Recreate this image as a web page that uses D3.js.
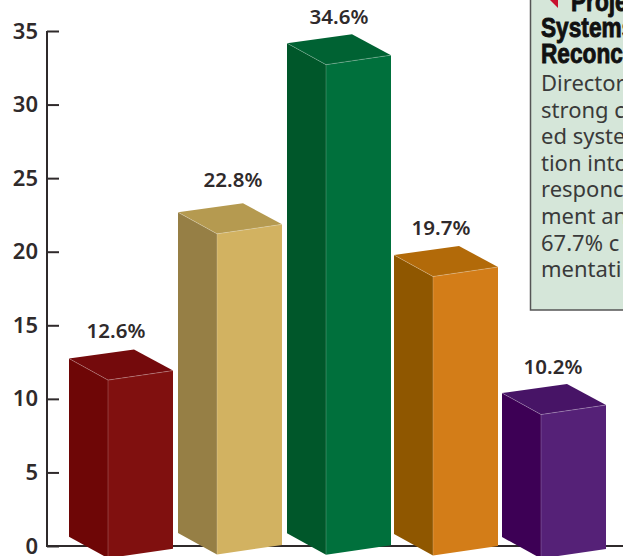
<!DOCTYPE html>
<html><head><meta charset="utf-8">
<script src="https://cdn.jsdelivr.net/npm/d3@7/dist/d3.min.js"></script>
<style>
html,body{margin:0;padding:0;background:#fff;overflow:hidden}
svg{display:block}
</style></head><body>
<svg id="c" width="623" height="556"></svg>
<script>
const categories = ["Bar 1","Bar 2","Bar 3","Bar 4","Bar 5"];
const values = [12.6,22.8,34.6,19.7,10.2];
const yTicks = [0,5,10,15,20,25,30,35];
const frontColors = ["#80100f","#d2b261","#00703c","#d37d18","#552177"];
const sideColors  = ["#6e0606","#967f45","#00572a","#8f5700","#3d0055"];
const topColors   = ["#740a0c","#b59a50","#006233","#b26a09","#471466"];
const headingLines = ["Proje","Systems","Reconc"];
const bodyLines = ["Director","strong c","ed syste","tion into","responc","ment an","67.7% c","mentati"];

const svg = d3.select("#c");
const font = "'Noto Sans', sans-serif";
const ink = "#2f2a2b";

const y = d3.scaleLinear().domain([0,35]).range([546,31]);
// bars are drawn in oblique projection, so their tops follow a slightly different scale
const yBar = d3.scaleLinear().domain([0,35]).range([539.3,37.4]);
const x = d3.scaleOrdinal().domain(categories).range([69,178,287,394,502]);

// axis
const axis = d3.axisLeft(y).tickValues(yTicks).tickSize(-12).tickPadding(9).tickFormat(d3.format("d"));
const gA = svg.append("g").attr("transform","translate(47,0)").call(axis);
gA.select(".domain").attr("stroke",ink).attr("stroke-width",2).attr("d","M0,31V546");
gA.selectAll(".tick line").attr("stroke",ink).attr("stroke-width",2);
gA.selectAll(".tick text").attr("fill",ink).style("font",`600 22px ${font}`);
svg.append("line").attr("x1",46).attr("x2",623).attr("y1",y(0)).attr("y2",y(0)).attr("stroke",ink).attr("stroke-width",2);

// bars
const floors = [536.7,533,533.3,534,537];
const topNudge = [0,0,0,-1.8,0];
const labelDx = [47,55,52,47,51];
const labelDy = [20.6,25.3,19,20,19];
const dFront=[39,21.5], dBack=[65,-9], dRight=[104,12];
const barTop = i => yBar(values[i]) + topNudge[i];
const pts = a => a.map(p=>p.join(",")).join(" ");
const g = svg.selectAll("g.bar").data(categories).join("g").attr("class","bar");
g.each(function(c,i){
  const s=d3.select(this), l=x(c), t=barTop(i), b=floors[i];
  const F=l+dFront[0], R=l+dRight[0], B=l+dBack[0];
  s.append("polygon").attr("points",pts([[l,t],[F,t+dFront[1]],[F,b+dFront[1]],[l,b]])).attr("fill",sideColors[i]);
  s.append("polygon").attr("points",pts([[F,t+dFront[1]],[R,t+dRight[1]],[R,b+dRight[1]],[F,b+dFront[1]]])).attr("fill",frontColors[i]);
  s.append("polygon").attr("points",pts([[l,t],[B,t+dBack[1]],[R,t+dRight[1]],[F,t+dFront[1]]])).attr("fill",topColors[i]);
  s.append("polyline").attr("points",pts([[l,t],[F,t+dFront[1]],[R,t+dRight[1]]])).attr("fill","none").attr("stroke","#fff").attr("stroke-opacity",.3).attr("stroke-width",.8);
  s.append("line").attr("x1",F).attr("x2",F).attr("y1",t+dFront[1]).attr("y2",b+dFront[1]).attr("stroke","#fff").attr("stroke-opacity",.25).attr("stroke-width",.8);
});

// value labels
svg.selectAll("text.val").data(categories).join("text").attr("class","val")
  .attr("x",(c,i)=>x(c)+labelDx[i]).attr("y",(c,i)=>barTop(i)-labelDy[i])
  .attr("text-anchor","middle").attr("fill",ink).style("font",`600 20.5px ${font}`)
  .text((c,i)=>values[i].toFixed(1)+"%");

// text panel
svg.append("rect").attr("x",530.5).attr("y",-5).attr("width",110).attr("height",315).attr("fill","#d5e6d9").attr("stroke","#555").attr("stroke-width",1.5);
svg.append("path").attr("d","M550,0L558,0L558,8Z").attr("fill","#c8102e");
svg.selectAll("text.head").data(headingLines).join("text").attr("class","head")
  .attr("transform",(d,i)=>`translate(${i?541:571},${11+i*26}) scale(0.84,1)`)
  .attr("fill","#111").attr("stroke","#111").attr("stroke-width",.9)
  .style("font","700 27px 'Liberation Sans', sans-serif")
  .text(d=>d);
svg.selectAll("text.body").data(bodyLines).join("text").attr("class","body")
  .attr("x",541).attr("y",(d,i)=>91+i*26.6)
  .attr("fill","#3a3a3a").style("font",`400 22px ${font}`)
  .text(d=>d);
</script>
</body></html>
